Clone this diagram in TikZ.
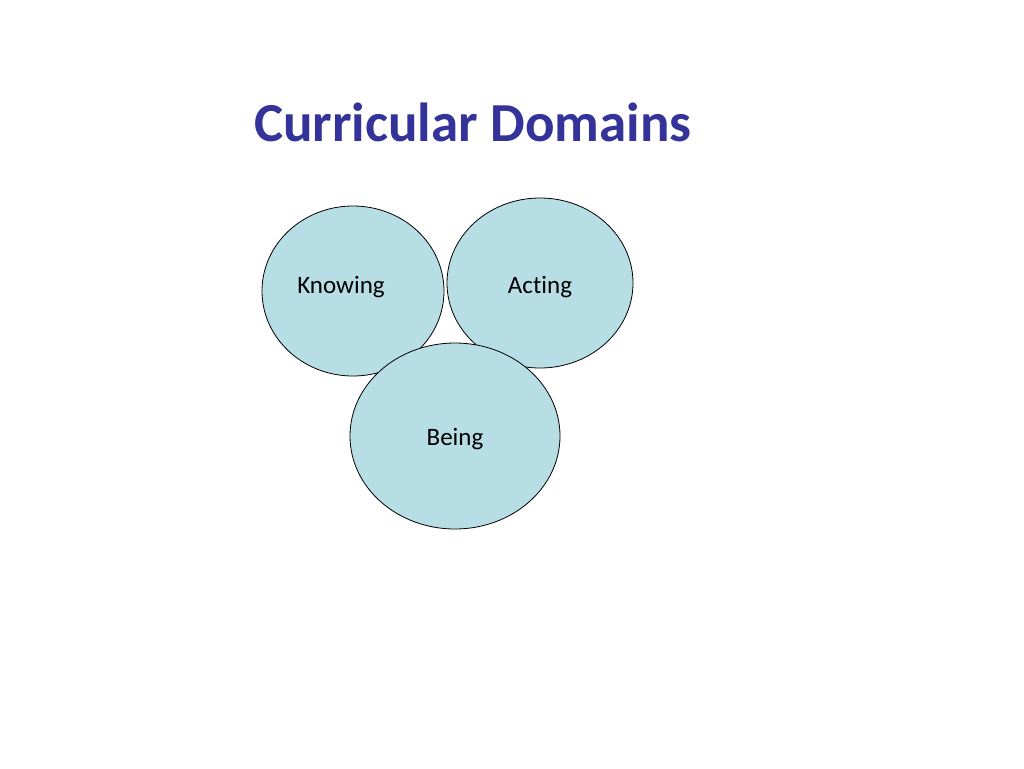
\documentclass[tikz,border=0pt]{standalone}
\usepackage{fontspec}
\setmainfont{Carlito}[Ligatures=NoCommon]
\usetikzlibrary{shapes.geometric}
\definecolor{titleblue}{RGB}{51,51,153}
\definecolor{domainfill}{RGB}{183,222,228}

\begin{document}
\begin{tikzpicture}[x=1pt,y=-1pt,
  bubble/.style={ellipse,draw=black,line width=0.8pt,fill=domainfill,inner sep=0pt},
  bubbletext/.style={font=\fontsize{25}{30}\selectfont,inner sep=0pt}]
 \useasboundingbox[fill=white](0,0) rectangle (1024,768);
 \node[font=\fontsize{55}{66}\selectfont\bfseries,text=titleblue] (title) at (473,122) {Curricular Domains};
 \node[bubble,minimum width=182pt,minimum height=170pt] (knowing) at (353,291) {};
 \node[bubble,minimum width=186pt,minimum height=170pt] (acting) at (540,283) {};
 \node[bubble,minimum width=210pt,minimum height=186pt] (being) at (455,436) {};
 \node[bubbletext] (knowingtext) at (341,287) {Knowing};
 \node[bubbletext] (actingtext) at (540,287) {Acting};
 \node[bubbletext] (beingtext) at (455,439) {Being};
\end{tikzpicture}
\end{document}
